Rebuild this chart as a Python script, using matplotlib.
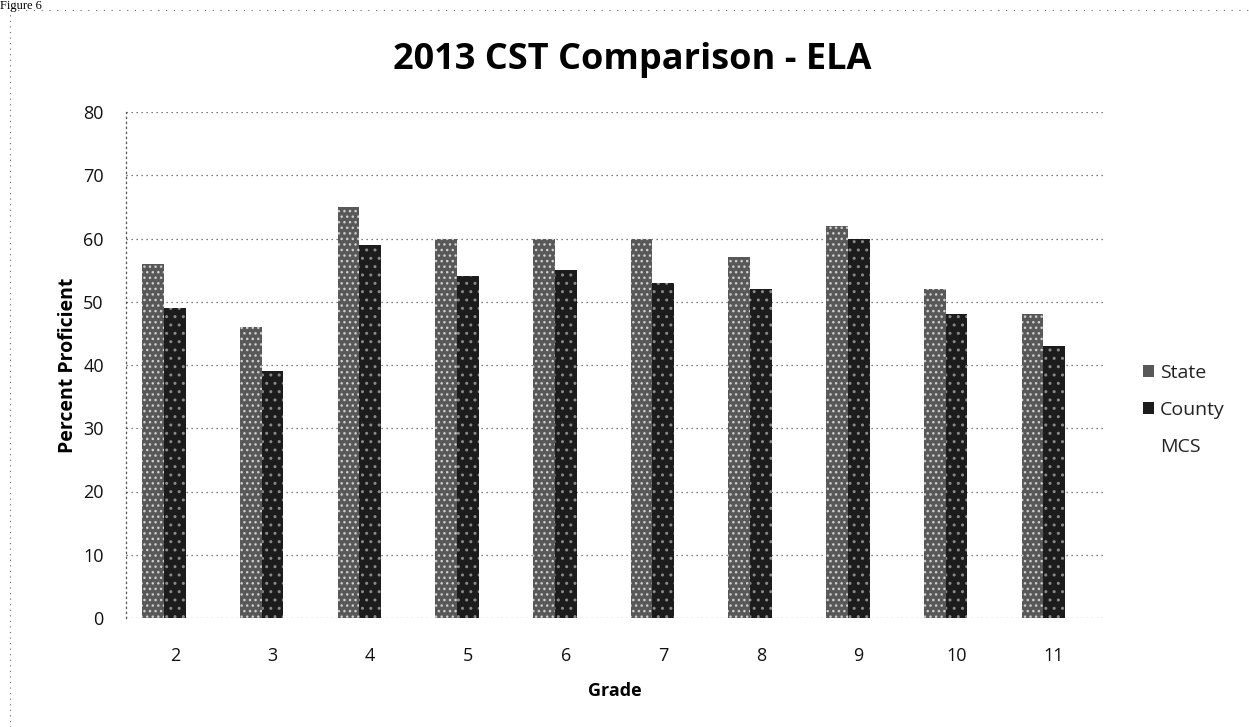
import numpy as np
import matplotlib.pyplot as plt
from matplotlib.patches import Patch

grades = ["2", "3", "4", "5", "6", "7", "8", "9", "10", "11"]
state = [56, 46, 65, 60, 60, 60, 57, 62, 52, 48]
county = [49, 39, 59, 54, 55, 53, 52, 60, 48, 43]
mcs = []  # no MCS values reported
yticks = [0, 10, 20, 30, 40, 50, 60, 70, 80]

plt.rcParams['font.family'] = ['Open Sans', 'DejaVu Sans']

fig = plt.figure(figsize=(12.49, 7.27), dpi=100)
ax = fig.add_axes([126 / 1249, 1 - 618 / 727, 977 / 1249, 506 / 727])

# clustered bars: three slots per grade, gap width 150%
slot = 1 / (3 + 1.5)
x = np.arange(len(grades))
state_style = dict(color='#585858', edgecolor='#cfcfcf', hatch='...', linewidth=0)
county_style = dict(color='#1c1c1c', edgecolor='#8a8a8a', hatch='..', linewidth=0)
ax.bar(x - slot, state, slot, zorder=2, **state_style)
ax.bar(x, county, slot, zorder=2, **county_style)

ax.set_xlim(-0.5, len(grades) - 0.5)
ax.set_ylim(0, 80)
ax.set_yticks(yticks)
ax.set_xticks(x)
ax.set_xticklabels(grades)
ax.tick_params(length=0, labelsize=13, colors='#111111')
ax.tick_params(axis='y', pad=16)
ax.tick_params(axis='x', pad=21)

ax.grid(axis='y', linestyle=(0, (1, 3)), color='#555555', linewidth=0.9, zorder=0)
for s in ['top', 'right', 'bottom']:
    ax.spines[s].set_visible(False)
ax.spines['left'].set_linestyle((0, (1, 3)))
ax.spines['left'].set_color('#555555')
ax.spines['left'].set_linewidth(0.9)

ax.set_xlabel('Grade', fontsize=13, fontweight='bold', labelpad=12)
ax.set_ylabel('Percent Proficient', fontsize=14, fontweight='bold', labelpad=4)

fig.text(0.506, 1 - 60 / 727, '2013 CST Comparison - ELA', ha='center', va='center',
         fontsize=26, fontweight='bold')

handles = [Patch(**state_style), Patch(**county_style),
           Patch(facecolor='none', edgecolor='none')]
fig.legend(handles, ['State', 'County', 'MCS'], loc='center left',
           bbox_to_anchor=(1125 / 1249, 1 - 410 / 727), frameon=False,
           fontsize=14, handlelength=0.6, handleheight=0.6, handletextpad=0.3,
           labelspacing=1.0, labelcolor='#222222')

# scanned page edges
fig.add_artist(plt.Line2D([10 / 1249, 10 / 1249], [0, 1 - 10 / 727],
                          transform=fig.transFigure, color='#666666',
                          linestyle=(0, (1, 4)), linewidth=0.8))
fig.add_artist(plt.Line2D([10 / 1249, 1], [1 - 10 / 727, 1 - 10 / 727],
                          transform=fig.transFigure, color='#666666',
                          linestyle=(0, (1, 6)), linewidth=0.8))
fig.text(0.0, 1.0, 'Figure 6', ha='left', va='top',
         family='Liberation Serif', fontsize=9)

fig.savefig('out.png', dpi=100)
